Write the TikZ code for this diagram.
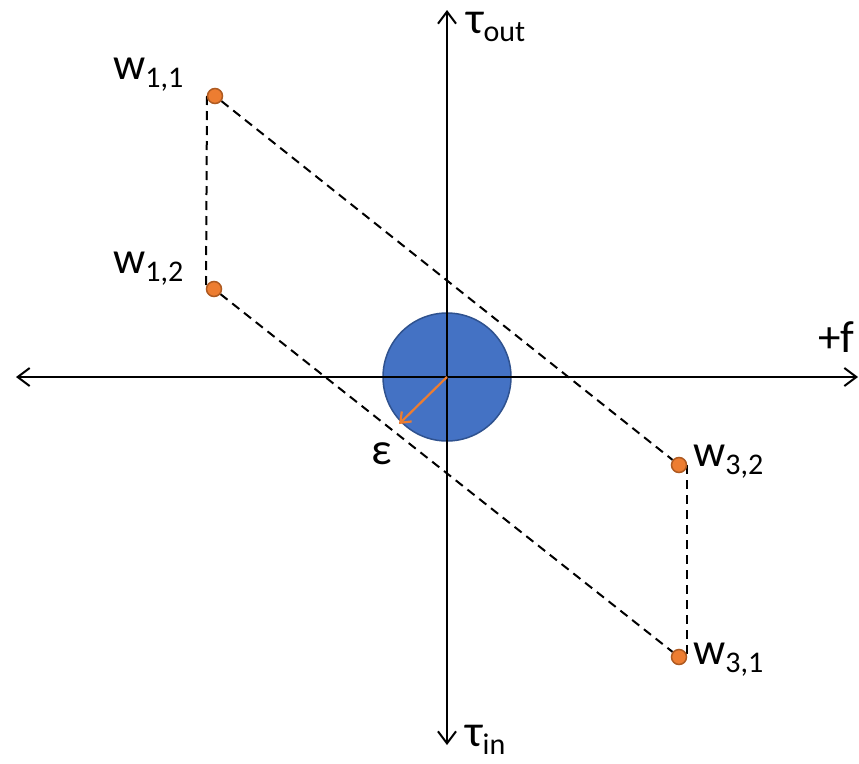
\documentclass[tikz,border=0pt]{standalone}
\usepackage{fontspec}
\setmainfont{Carlito}
\usepackage{xcolor}
\definecolor{discblue}{RGB}{68, 114, 196}
\definecolor{discedge}{RGB}{47,  82, 143}
\definecolor{dotorange}{RGB}{237, 125, 49}
\definecolor{dotedge}{RGB}{174,  90, 33}
\usetikzlibrary{arrows.meta, positioning, backgrounds}
\newcommand{\lowidx}[1]{\raisebox{-8pt}{\fontsize{30}{32}\selectfont #1}}

\begin{document}
\begin{tikzpicture}[x=1pt, y=-1pt,
    axis/.style={line width=2pt, {Straight Barb[length=12pt,width=18pt]}-{Straight Barb[length=12pt,width=18pt]}},
    wdot/.style={circle, fill=dotorange, draw=dotedge, line width=1.5pt, minimum size=15pt, inner sep=0pt},
    hull/.style={dash pattern=on 9pt off 6pt, line width=2pt},
    lbl/.style={inner sep=0pt, anchor=base west, font=\fontsize{45}{50}\selectfont}
  ]
    \useasboundingbox (0,0) rectangle (859,763);

    % disc round the origin
    \coordinate (o) at (447,377);
    \node[circle, fill=discblue, draw=discedge, line width=1.5pt, minimum size=128pt, inner sep=0pt] (disc) at (o) {};

    % axes
    \coordinate (xl) at (16,377);
    \coordinate (xr) at (858,377);
    \coordinate (yt) at (447,10);
    \coordinate (yb) at (447,745);
    \draw[axis] (xl) -- (xr);
    \draw[axis] (yt) -- (yb);

    % epsilon arrow
    \coordinate (eps) at (399,424);
    \draw[dotorange, line width=2.2pt, -{Straight Barb[length=9pt,width=14pt]}] (o) -- (eps);

    % weight points
    \node[wdot] (w11) at (215,96) {};
    \node[wdot] (w12) at (214,289) {};
    \node[wdot] (w32) at (679,465) {};
    \node[wdot] (w31) at (679,657) {};

    \begin{scope}[on background layer]
      \draw[hull] (w11) -- (w32);
      \draw[hull] (w12) -- (w31);
      \draw[hull] ([xshift=-8pt]w11.center) -- ([xshift=-8pt]w12.center);
      \draw[hull] ([xshift=8pt]w32.center) -- ([xshift=8pt]w31.center);
    \end{scope}

    % labels
    \node[lbl] (lw11) at (113,79) {w\lowidx{1,1}};
    \node[lbl] (lw12) at (113,273) {w\lowidx{1,2}};
    \node[lbl] (lw32) at (693,466) {w\lowidx{3,2}};
    \node[lbl] (lw31) at (693,664) {w\lowidx{3,1}};
    \node[lbl] (ltout) at (466,33) {τ\lowidx{out}};
    \node[lbl] (ltin) at (465,746) {τ\lowidx{in}};
    \node[lbl] (leps) at (371,464) {ε};
    \node[lbl] (lf) at (818,352) {+f};
  \end{tikzpicture}
\end{document}
